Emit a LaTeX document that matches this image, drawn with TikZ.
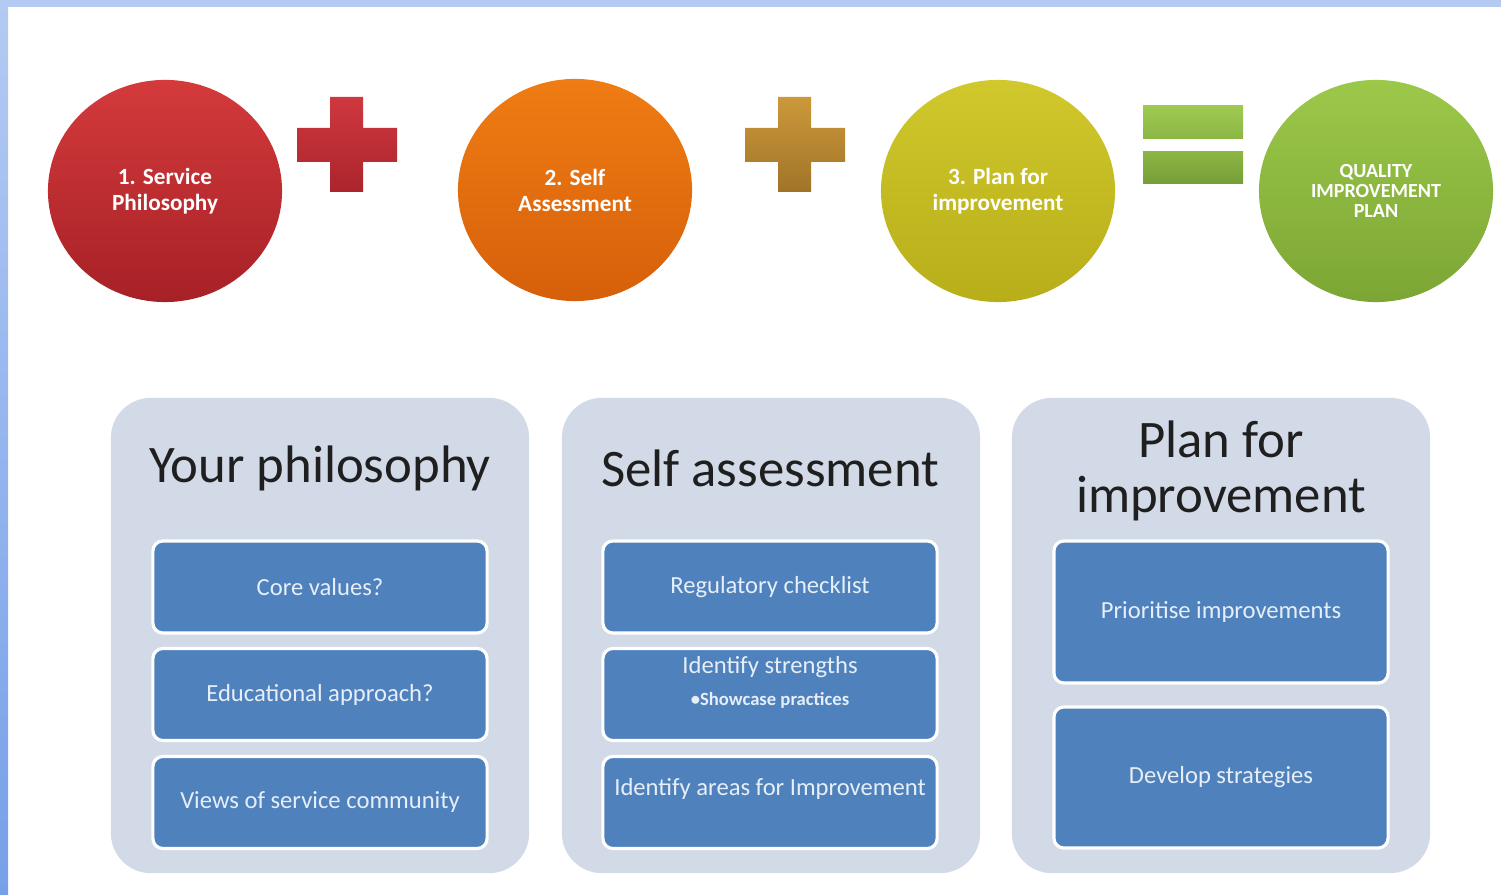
\documentclass[tikz,border=0pt]{standalone}
\usepackage{fontspec}
\setmainfont{Carlito}
\usetikzlibrary{shapes.geometric}
\definecolor{framelight}{HTML}{B4CAF3}
\definecolor{framedark}{HTML}{76A0E9}
\definecolor{panelgrey}{HTML}{D2D9E7}
\definecolor{itemblue}{HTML}{4F81BD}
\definecolor{itemtext}{HTML}{E6EEF8}
\definecolor{redtop}{HTML}{D43A3C}
\definecolor{redbot}{HTML}{A62126}
\definecolor{orangetop}{HTML}{F07C14}
\definecolor{orangebot}{HTML}{D6600A}
\definecolor{olivetop}{HTML}{D0C82C}
\definecolor{olivebot}{HTML}{B8AE1A}
\definecolor{greentop}{HTML}{9CC84A}
\definecolor{greenbot}{HTML}{7CA634}
\definecolor{plusredtop}{HTML}{CE383E}
\definecolor{plusredbot}{HTML}{AC242C}
\definecolor{plusgoldtop}{HTML}{CC983A}
\definecolor{plusgoldbot}{HTML}{A07428}
\definecolor{equaltop}{HTML}{9ECA52}
\definecolor{equalmid}{HTML}{8CB644}
\definecolor{equalbot}{HTML}{769E38}
\begin{document}
\begin{tikzpicture}[x=0.01cm,y=-0.01cm,
				every node/.style={inner sep=0pt},
				disc/.style={ellipse,minimum width=2.34cm,minimum height=2.22cm,text=white,align=center,
					font=\bfseries\fontsize{6.6}{7.4}\selectfont},
				panel/.style={rounded corners=0.4cm,fill=panelgrey,minimum width=4.18cm,minimum height=4.75cm},
				heading/.style={text=black!88,align=center,font=\fontsize{15}{15.6}\selectfont},
				item/.style={rounded corners=0.1cm,fill=itemblue,draw=white,line width=0.9pt,
					minimum width=3.34cm,minimum height=0.92cm,text=itemtext,align=center,
					font=\fontsize{7}{8.6}\selectfont}]
\useasboundingbox (0,0) rectangle (1501,895);
\fill[white] (0,0) rectangle (1501,895);
\fill[framelight] (0,0) rectangle (1501,7);
\shade[top color=framelight,bottom color=framedark] (0,0) rectangle (8,895);

\node[disc,top color=redtop,bottom color=redbot] (philosophy) at (165,191) {1. Service\\Philosophy};
\node[disc,top color=orangetop,bottom color=orangebot] (assessment) at (575,190) {2. Self\\Assessment};
\node[disc,top color=olivetop,bottom color=olivebot] (plan) at (998,191) {3. Plan for\\improvement};
\node[disc,top color=greentop,bottom color=greenbot,
	font=\bfseries\fontsize{5.7}{5.7}\selectfont] (qip) at (1376,191) {QUALITY\\IMPROVEMENT\\PLAN};

\foreach \cx/\ctop/\cbot in {347/plusredtop/plusredbot,795/plusgoldtop/plusgoldbot}
	\shade[top color=\ctop,bottom color=\cbot,shift={(\cx,145)}]
		(-17,-48) -- (16,-48) -- (16,-17) -- (50,-17) -- (50,17) -- (16,17) -- (16,47)
		-- (-17,47) -- (-17,17) -- (-50,17) -- (-50,-17) -- (-17,-17) -- cycle;
\shade[top color=equaltop,bottom color=equalmid] (1143,106) rectangle (1243,139);
\shade[top color=equalmid,bottom color=equalbot] (1143,152) rectangle (1243,184);

\node[panel] (panel1) at (320,635.5) {};
\node[panel] (panel2) at (771,635.5) {};
\node[panel] (panel3) at (1221,635.5) {};

\node[heading] (head1) at (320,468) {Your philosophy};
\node[heading] (head2) at (770,468) {Self assessment};
\node[heading] (head3) at (1221,471) {Plan for\\improvement};

\node[item] (core) at (320,587) {Core values?};
\node[item] (approach) at (320,694.5) {Educational approach?};
\node[item] (views) at (320,802.5) {Views of service community};

\node[item] (checklist) at (770,587) {Regulatory checklist};
\node[item] (strengths) at (770,694.5) {};
\node[text=itemtext,font=\fontsize{7}{8.6}\selectfont] (strengthstext) at (770,667) {Identify strengths};
\node[text=itemtext,font=\bfseries\fontsize{5.3}{6}\selectfont] (showcase) at (770,700) {•Showcase practices};
\node[item] (areas) at (770,802.5) {Identify areas for Improvement\\\mbox{}};

\node[item,minimum height=1.42cm] (prioritise) at (1221,612) {Prioritise improvements};
\node[item,minimum height=1.41cm] (strategies) at (1221,777.5) {Develop strategies};
\end{tikzpicture}
\end{document}
